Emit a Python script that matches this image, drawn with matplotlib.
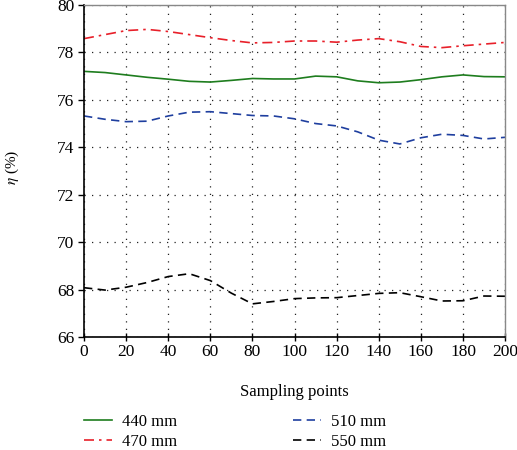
import matplotlib
matplotlib.use("Agg")
import matplotlib.pyplot as plt

x = list(range(0, 201, 10))
s440 = [77.2, 77.15, 77.05, 76.95, 76.87, 76.78, 76.75, 76.82, 76.9, 76.88, 76.88,
        77.0, 76.97, 76.8, 76.72, 76.75, 76.85, 76.97, 77.05, 76.98, 76.97]
s470 = [78.58, 78.75, 78.92, 78.97, 78.88, 78.75, 78.62, 78.5, 78.4, 78.42, 78.48,
        78.48, 78.43, 78.52, 78.58, 78.45, 78.25, 78.2, 78.28, 78.35, 78.42]
s510 = [75.32, 75.18, 75.08, 75.1, 75.32, 75.48, 75.5, 75.42, 75.34, 75.32, 75.2,
        75.0, 74.9, 74.65, 74.3, 74.14, 74.4, 74.55, 74.5, 74.35, 74.42]
s550 = [68.08, 67.98, 68.1, 68.3, 68.55, 68.67, 68.38, 67.85, 67.4, 67.5, 67.62,
        67.65, 67.66, 67.75, 67.84, 67.87, 67.7, 67.52, 67.53, 67.73, 67.72]
labels = ["440 mm", "470 mm", "510 mm", "550 mm"]
xticks = list(range(0, 201, 20))
yticks = list(range(66, 81, 2))

plt.rcParams['font.family'] = ['Liberation Serif', 'DejaVu Serif']
plt.rcParams['mathtext.fontset'] = 'stix'
fs = 12.5
fig = plt.figure(figsize=(5.17, 4.5), dpi=100)
ax = fig.add_axes([0.1625, 0.251, 0.8145, 0.738])

l1, = ax.plot(x, s440, color='#1e7d1e', lw=1.2, ls='-')
l2, = ax.plot(x, s470, color='#e8202a', lw=1.2, ls=(0, (6, 3, 1.5, 3)))
l3, = ax.plot(x, s510, color='#1f3f9f', lw=1.2, ls=(0, (5, 3.2)))
l4, = ax.plot(x, s550, color='black', lw=1.2, ls=(0, (5, 3.2)))

ax.set_xlim(0, 200)
ax.set_ylim(66, 80)
ax.set_xticks(xticks)
ax.set_yticks(yticks)
ax.grid(True, color='#222222', ls=(0, (1, 5)), lw=0.9)
ax.tick_params(axis='x', direction='inout', labelsize=fs, length=6, width=1, pad=2)
ax.tick_params(axis='y', direction='out', labelsize=fs, length=4, width=1, pad=3)
for s in ['left', 'bottom']:
    ax.spines[s].set_linewidth(1.2)
for s in ['top', 'right']:
    ax.spines[s].set_color('#888888')
    ax.spines[s].set_linewidth(1.0)

ax.set_xlabel("Sampling points", fontsize=12)
ax.set_ylabel(r"$\eta$ (%)", fontsize=11)
ax.xaxis.set_label_coords(0.5, -0.14)
ax.yaxis.set_label_coords(-0.15, 0.51)

fig.legend([l1, l2, l3, l4], labels, ncol=2, loc='upper left',
           bbox_to_anchor=(84 / 517, 1 - 414 / 450), frameon=False, fontsize=12,
           borderpad=0, borderaxespad=0, handlelength=1.65, handletextpad=0.6,
           columnspacing=7.0, labelspacing=0.25)

fig.savefig("out.png", dpi=100)
